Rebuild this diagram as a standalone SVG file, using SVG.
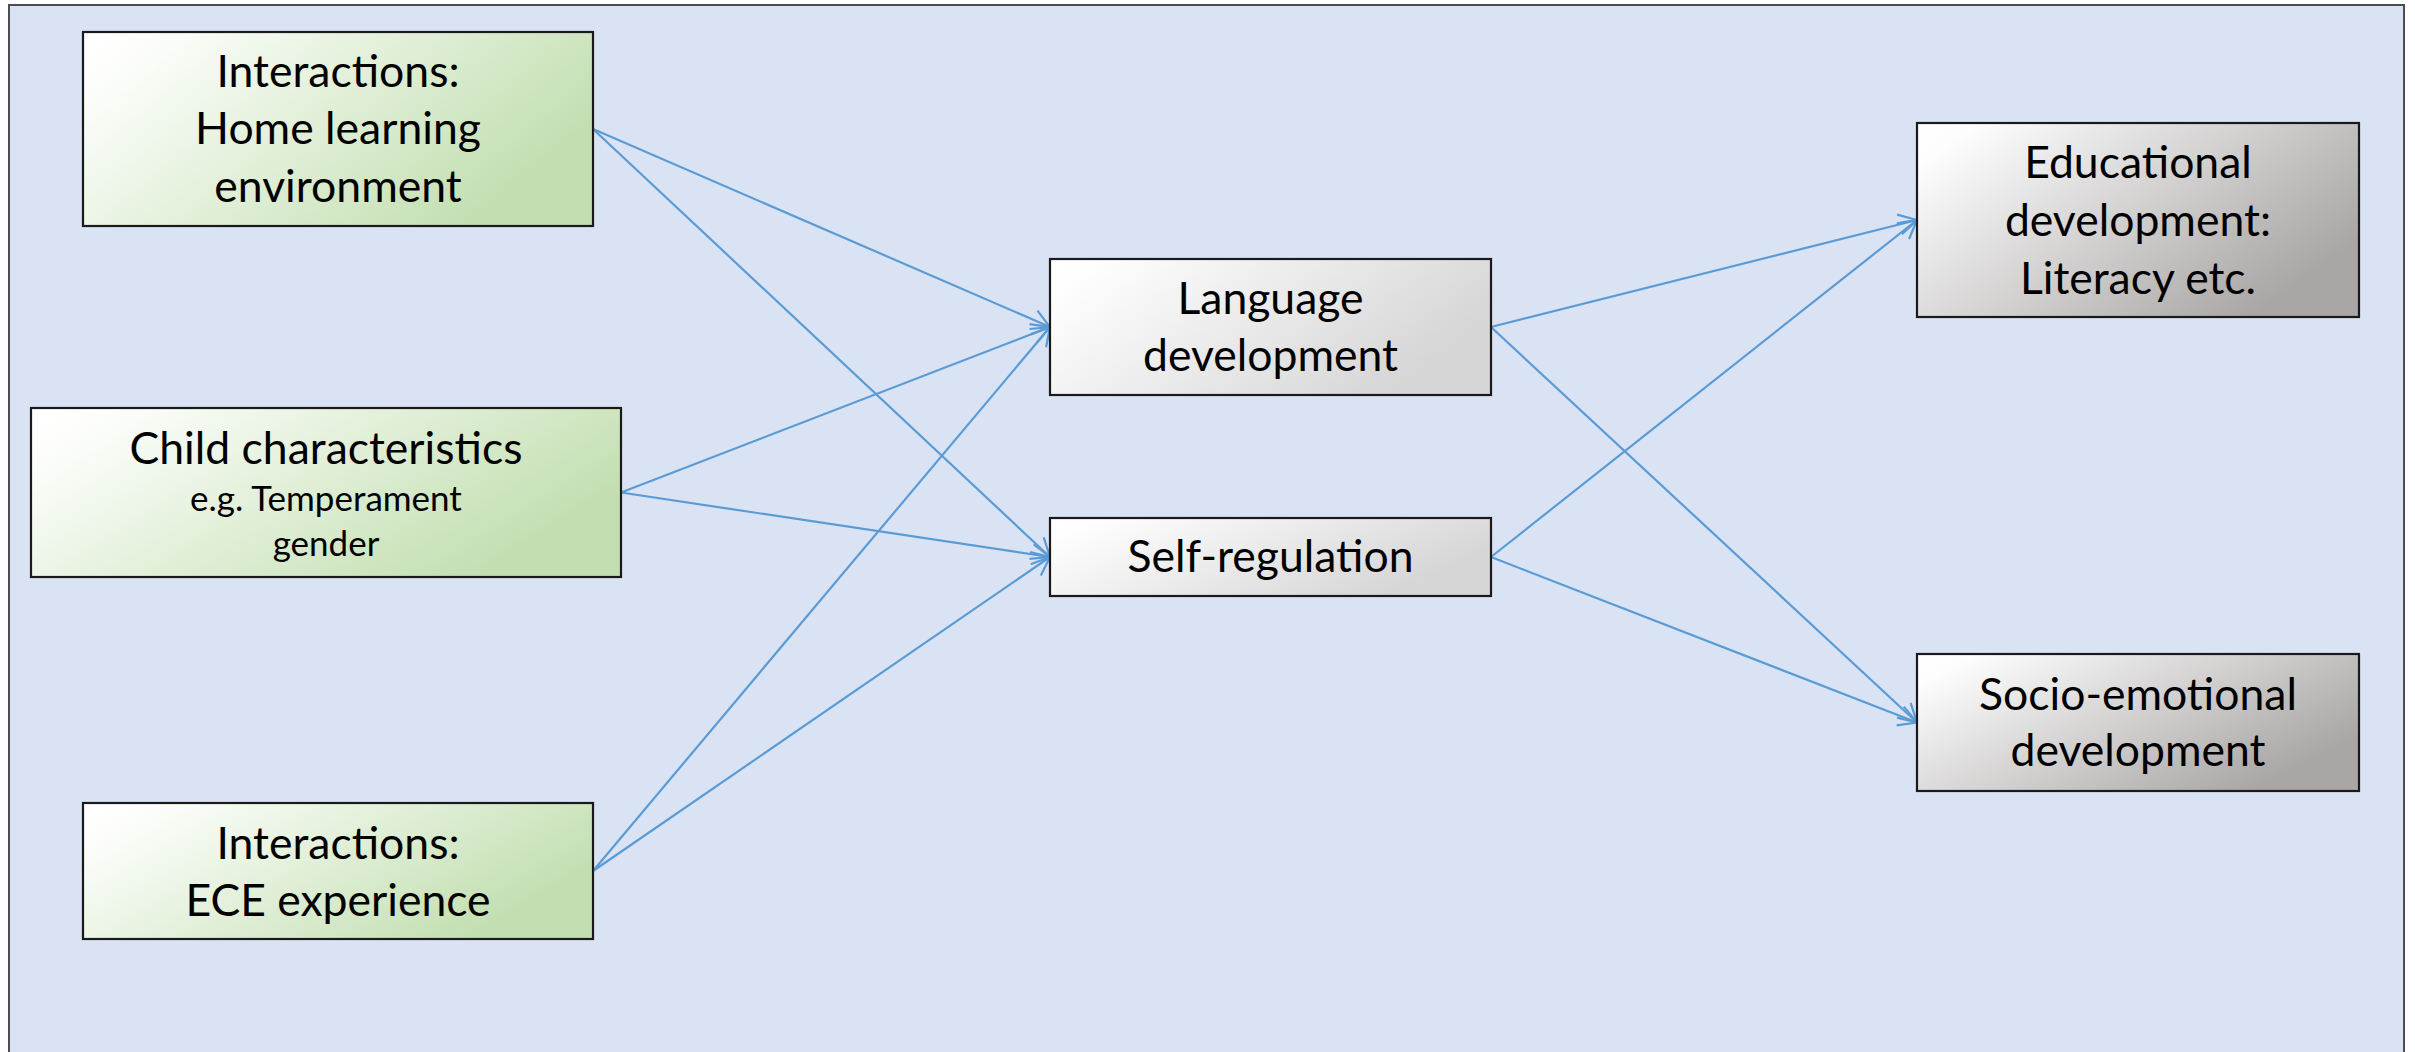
<svg xmlns="http://www.w3.org/2000/svg" width="2415" height="1052" viewBox="0 0 2415 1052">
  <style>
    .box { stroke: #1A1A1A; stroke-width: 2.2; }
    .t { font-family: Lato, "Open Sans", sans-serif; font-size: 44.5px; fill: #000; text-anchor: middle; }
    .ts { font-family: Lato, "Open Sans", sans-serif; font-size: 35px; fill: #000; text-anchor: middle; }
    .edge { fill: none; stroke: #5B9BD5; stroke-width: 2.2; marker-end: url(#arrow); }
  </style>
  <defs>
    <linearGradient id="gGreen" x1="0" y1="0" x2="1" y2="0.45">
      <stop offset="0" stop-color="#FFFFFF"/>
      <stop offset="0.12" stop-color="#FDFEFC"/>
      <stop offset="1" stop-color="#C3DFB1"/>
    </linearGradient>
    <linearGradient id="gLight" x1="0" y1="0" x2="1" y2="0.4">
      <stop offset="0" stop-color="#FFFFFF"/>
      <stop offset="0.1" stop-color="#FEFEFE"/>
      <stop offset="1" stop-color="#D6D6D6"/>
    </linearGradient>
    <linearGradient id="gDark" x1="0" y1="0" x2="1" y2="0.6">
      <stop offset="0" stop-color="#FFFFFF"/>
      <stop offset="0.1" stop-color="#FDFDFD"/>
      <stop offset="1" stop-color="#A9A6A5"/>
    </linearGradient>
    <marker id="arrow" markerUnits="userSpaceOnUse" markerWidth="40" markerHeight="40" viewBox="-30 -20 40 40" refX="0" refY="0" orient="auto" overflow="visible">
      <path d="M -18 -10 L 0 0 L -18 10" fill="none" stroke="#5B9BD5" stroke-width="2.2" stroke-linejoin="miter"/>
    </marker>
  </defs>

  <rect x="0" y="0" width="2415" height="1052" fill="#FFFFFF"/>
  <rect id="frame" x="9" y="5" width="2395" height="1060" fill="#DAE3F3" stroke="#4D4D4D" stroke-width="2"/>

  <g id="connectors">
    <line class="edge" x1="593" y1="129" x2="1050" y2="327"/>
    <line class="edge" x1="593" y1="129" x2="1050" y2="557"/>
    <line class="edge" x1="621" y1="492.5" x2="1050" y2="327"/>
    <line class="edge" x1="621" y1="492.5" x2="1050" y2="557"/>
    <line class="edge" x1="593" y1="871" x2="1050" y2="327"/>
    <line class="edge" x1="593" y1="871" x2="1050" y2="557"/>
    <line class="edge" x1="1491" y1="327" x2="1917" y2="220"/>
    <line class="edge" x1="1491" y1="327" x2="1917" y2="722.5"/>
    <line class="edge" x1="1491" y1="557" x2="1917" y2="220"/>
    <line class="edge" x1="1491" y1="557" x2="1917" y2="722.5"/>
  </g>

  <g id="home-learning">
    <rect class="box" x="83" y="32" width="510" height="194" fill="url(#gGreen)"/>
    <text class="t" x="338" y="87">Interactions:</text>
    <text class="t" x="338" y="144">Home learning</text>
    <text class="t" x="338" y="202">environment</text>
  </g>

  <g id="child-characteristics">
    <rect class="box" x="31" y="408" width="590" height="169" fill="url(#gGreen)"/>
    <text class="t" x="326" y="464">Child characteristics</text>
    <text class="ts" x="326" y="511">e.g. Temperament</text>
    <text class="ts" x="326" y="556">gender</text>
  </g>

  <g id="ece-experience">
    <rect class="box" x="83" y="803" width="510" height="136" fill="url(#gGreen)"/>
    <text class="t" x="338" y="859">Interactions:</text>
    <text class="t" x="338" y="916">ECE experience</text>
  </g>

  <g id="language-development">
    <rect class="box" x="1050" y="259" width="441" height="136" fill="url(#gLight)"/>
    <text class="t" x="1270.5" y="314">Language</text>
    <text class="t" x="1270.5" y="371">development</text>
  </g>

  <g id="self-regulation">
    <rect class="box" x="1050" y="518" width="441" height="78" fill="url(#gLight)"/>
    <text class="t" x="1270.5" y="572">Self-regulation</text>
  </g>

  <g id="educational-development">
    <rect class="box" x="1917" y="123" width="442" height="194" fill="url(#gDark)"/>
    <text class="t" x="2138" y="178">Educational</text>
    <text class="t" x="2138" y="236">development:</text>
    <text class="t" x="2138" y="294">Literacy etc.</text>
  </g>

  <g id="socio-emotional">
    <rect class="box" x="1917" y="654" width="442" height="137" fill="url(#gDark)"/>
    <text class="t" x="2138" y="710">Socio-emotional</text>
    <text class="t" x="2138" y="766">development</text>
  </g>
</svg>
